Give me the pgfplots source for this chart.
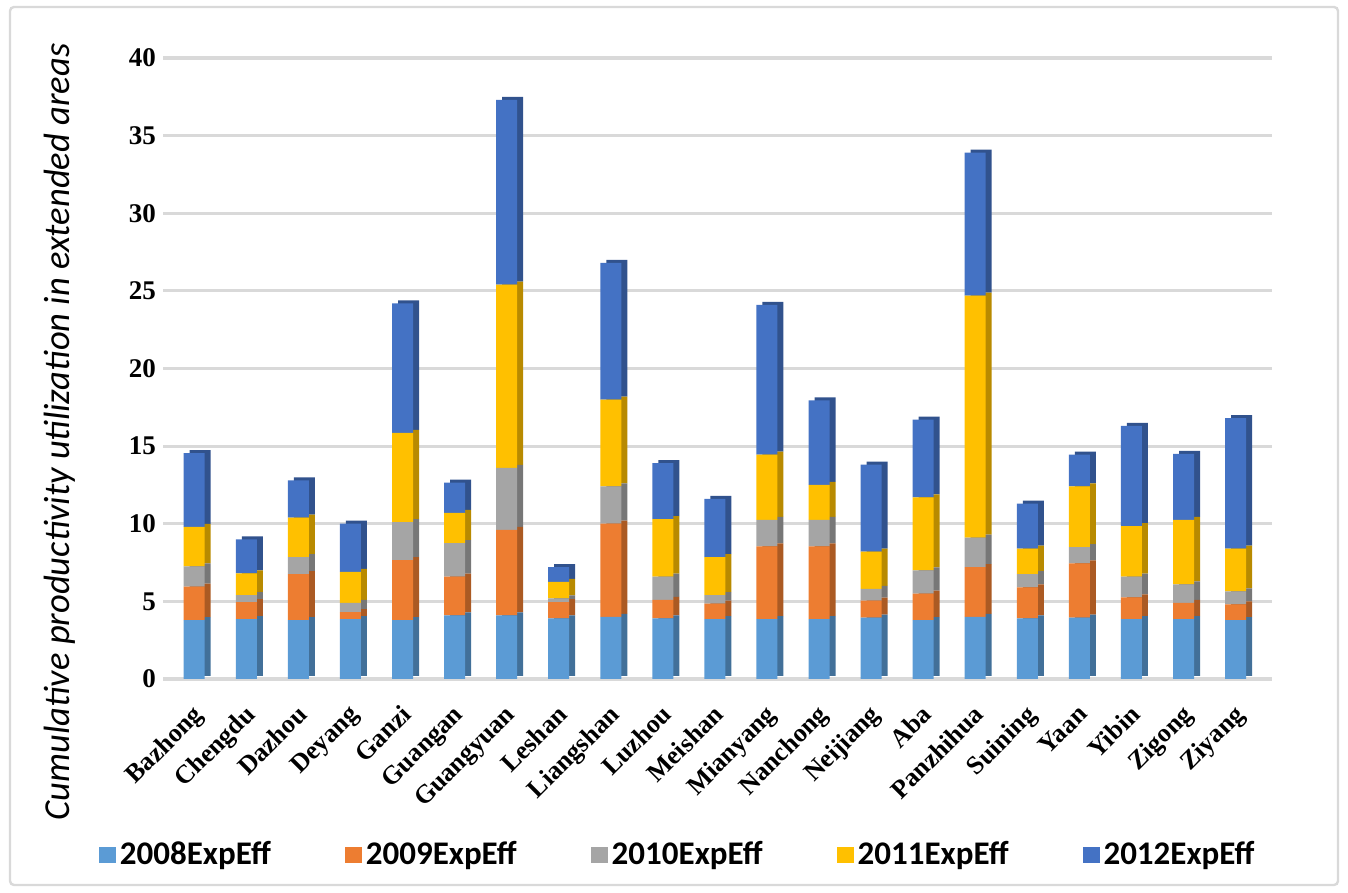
\documentclass[border=0pt]{standalone}
\usepackage{pgfplots}
\usepackage{pgfplotstable}
\pgfplotsset{compat=1.18}
\usepackage{fontspec}
\setmainfont{Liberation Serif}
\newfontfamily\calibri{Carlito}

\definecolor{c08}{HTML}{5B9BD5}
\definecolor{c09}{HTML}{ED7D31}
\definecolor{c10}{HTML}{A5A5A5}
\definecolor{c11}{HTML}{FFC000}
\definecolor{c12}{HTML}{4472C4}
\definecolor{gridc}{HTML}{D9D9D9}

\pgfplotsset{
  sqlegend/.style={legend image code/.code={\fill[##1,draw=none] (0pt,-4pt) rectangle (8.5pt,4pt);}},
  common/.style={
    at={(81.5pt,107pt)}, anchor=south west,
    scale only axis,
    width=554.5pt, height=310.5pt,
    ybar stacked, bar width=10.5pt,
    xmin=-0.6, xmax=20.7,
    ymin=0, ymax=40,
    ytick={0,5,...,40},
    xtick=data,
    axis line style={draw=none},
    major tick length=0pt,
  },
}

% per-year increments, stacked
\pgfplotstableread{
x a b c d e
0 3.8 2.15 1.3 2.55 4.75
1 3.85 1.1 0.45 1.4 2.2
2 3.8 2.95 1.1 2.55 2.4
3 3.85 0.45 0.6 2.0 3.1
4 3.8 3.85 2.45 5.75 8.35
5 4.1 2.5 2.15 1.95 1.95
6 4.1 5.5 4.0 11.8 11.9
7 3.9 1.05 0.25 1.05 0.95
8 4.0 6.0 2.4 5.6 8.8
9 3.9 1.2 1.5 3.7 3.6
10 3.85 1.0 0.55 2.45 3.75
11 3.85 4.7 1.7 4.2 9.65
12 3.85 4.7 1.7 2.25 5.45
13 3.95 1.1 0.75 2.4 5.6
14 3.8 1.7 1.5 4.7 5.0
15 4.0 3.2 1.9 15.6 9.2
16 3.9 2.0 0.85 1.65 2.9
17 3.95 3.5 1.05 3.9 2.05
18 3.85 1.4 1.35 3.25 6.45
19 3.85 1.05 1.2 4.15 4.25
20 3.8 1.0 0.85 2.75 8.4
}\datatable

\begin{document}
\begin{tikzpicture}
\useasboundingbox (0,0) rectangle (674pt,446.5pt);
\draw[gridc, line width=1.2pt, rounded corners=2pt] (5pt,4pt) rectangle (669pt,443pt);

% back layer: grid and the darker side faces of the bars
\begin{axis}[
    common,
    bar shift=3pt,
    xticklabels={}, yticklabels={},
    ymajorgrids, grid style={gridc, line width=1.6pt},
  ]
  \addplot[fill=c08!72!black, draw=none, yshift=1.5pt] table[x=x, y=a] {\datatable};
  \addplot[fill=c09!72!black, draw=none, yshift=1.5pt] table[x=x, y=b] {\datatable};
  \addplot[fill=c10!72!black, draw=none, yshift=1.5pt] table[x=x, y=c] {\datatable};
  \addplot[fill=c11!72!black, draw=none, yshift=1.5pt] table[x=x, y=d] {\datatable};
  \addplot[fill=c12!72!black, draw=none, yshift=1.5pt] table[x=x, y=e] {\datatable};
\end{axis}

% front layer: bar faces, labels and legend
\begin{axis}[
    common,
    xticklabels={Bazhong,Chengdu,Dazhou,Deyang,Ganzi,Guangan,Guangyuan,Leshan,Liangshan,Luzhou,Meishan,Mianyang,Nanchong,Neijiang,Aba,Panzhihua,Suining,Yaan,Yibin,Zigong,Ziyang},
    xticklabel style={font=\fontsize{13}{13}\selectfont\bfseries, rotate=45, anchor=north east, inner sep=1pt, xshift=-8.5pt, yshift=-6.5pt},
    yticklabel style={font=\fontsize{13.5}{13.5}\selectfont\bfseries, /pgf/number format/assume math mode=true},
    ylabel={\calibri\itshape Cumulative productivity utilization in extended areas},
    ylabel style={font=\fontsize{18.3}{18.3}\selectfont, at={(axis description cs:-0.093,0.398)}, anchor=center},
    sqlegend,
    legend columns=5,
    legend style={at={(axis description cs:0.465,-0.283)}, anchor=center, draw=none,
      font=\calibri\fontsize{16.5}{16.5}\selectfont\bfseries,
      /tikz/every even column/.append style={column sep=35pt}},
  ]
  \addplot[fill=c08, draw=none] table[x=x, y=a] {\datatable};
  \addplot[fill=c09, draw=none] table[x=x, y=b] {\datatable};
  \addplot[fill=c10, draw=none] table[x=x, y=c] {\datatable};
  \addplot[fill=c11, draw=none] table[x=x, y=d] {\datatable};
  \addplot[fill=c12, draw=none] table[x=x, y=e] {\datatable};
  \legend{2008ExpEff,2009ExpEff,2010ExpEff,2011ExpEff,2012ExpEff}
\end{axis}
\end{tikzpicture}
\end{document}
